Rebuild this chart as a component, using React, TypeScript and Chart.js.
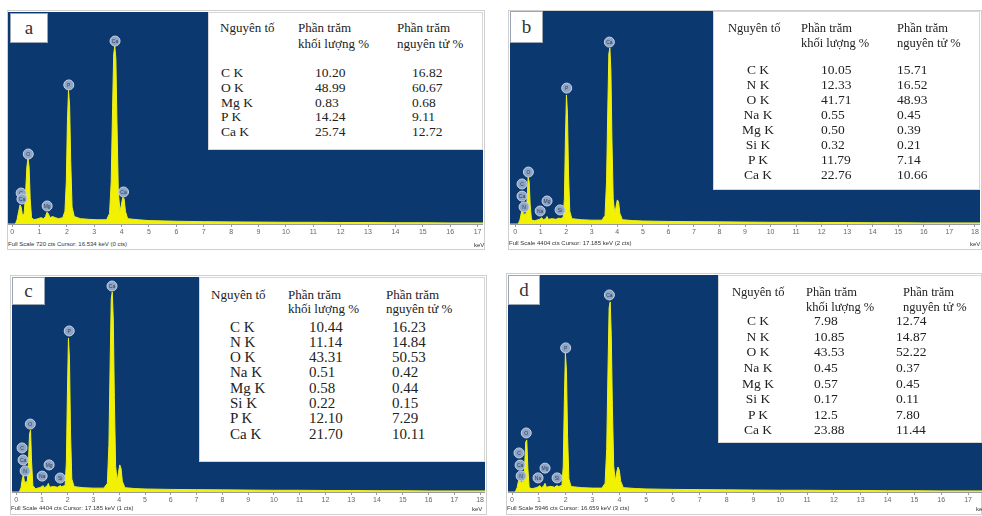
import React, { useEffect, useRef } from 'react';
import { Chart, registerables } from 'chart.js';
Chart.register(...registerables);

type Pt = [number, number];
type Mk = [string, number, number];

// ---------- DATA ----------
const headerElement = 'Nguyên tố';
const headerMass = ['Phần trăm', 'khối lượng %'];
const headerAtom = ['Phần trăm', 'nguyên tử %'];

const elementsA = ['C K', 'O K', 'Mg K', 'P K', 'Ca K'];
const massA = ['10.20', '48.99', '0.83', '14.24', '25.74'];
const atomA = ['16.82', '60.67', '0.68', '9.11', '12.72'];

const elementsB = ['C K', 'N K', 'O K', 'Na K', 'Mg K', 'Si K', 'P K', 'Ca K'];
const massB = ['10.05', '12.33', '41.71', '0.55', '0.50', '0.32', '11.79', '22.76'];
const atomB = ['15.71', '16.52', '48.93', '0.45', '0.39', '0.21', '7.14', '10.66'];

const elementsC = ['C K', 'N K', 'O K', 'Na K', 'Mg K', 'Si K', 'P K', 'Ca K'];
const massC = ['10.44', '11.14', '43.31', '0.51', '0.58', '0.22', '12.10', '21.70'];
const atomC = ['16.23', '14.84', '50.53', '0.42', '0.44', '0.15', '7.29', '10.11'];

const elementsD = ['C K', 'N K', 'O K', 'Na K', 'Mg K', 'Si K', 'P K', 'Ca K'];
const massD = ['7.98', '10.85', '43.53', '0.45', '0.57', '0.17', '12.5', '23.88'];
const atomD = ['12.74', '14.87', '52.22', '0.37', '0.45', '0.11', '7.80', '11.44'];

const footerA = 'Full Scale 720 cts  Cursor: 16.534 keV (0 cts)';
const footerB = 'Full Scale 4404 cts  Cursor: 17.185 keV (2 cts)';
const footerC = 'Full Scale 4404 cts  Cursor: 17.185 keV (1 cts)';
const footerD = 'Full Scale 5946 cts  Cursor: 16.659 keV (3 cts)';

const ticks17 = [0, 1, 2, 3, 4, 5, 6, 7, 8, 9, 10, 11, 12, 13, 14, 15, 16, 17];
const ticks18 = [0, 1, 2, 3, 4, 5, 6, 7, 8, 9, 10, 11, 12, 13, 14, 15, 16, 17, 18];

// spectra: [keV, relative counts (% of plot height)]
const spectrumA: Pt[] = [
  [-0.15, 0], [0.12, 0], [0.18, 2], [0.24, 6], [0.29, 9], [0.33, 8], [0.38, 4], [0.44, 5], [0.49, 14],
  [0.54, 27], [0.58, 31], [0.62, 27], [0.66, 12], [0.71, 3], [0.8, 2], [0.95, 2.5], [1.05, 3], [1.15, 2.5],
  [1.22, 3.5], [1.27, 5.5], [1.32, 5], [1.38, 3], [1.48, 3.5], [1.58, 3], [1.7, 2.5], [1.85, 3],
  [1.93, 6], [1.98, 20], [2.02, 48], [2.06, 63], [2.1, 56], [2.14, 30], [2.19, 8], [2.27, 3.5], [2.5, 2.5],
  [2.8, 2.2], [3.1, 2], [3.45, 2], [3.56, 5], [3.62, 20], [3.67, 55], [3.71, 80], [3.75, 84], [3.79, 78],
  [3.83, 48], [3.88, 15], [3.94, 6], [3.99, 9], [4.04, 12.5], [4.09, 12], [4.14, 6], [4.22, 2.5],
  [4.6, 2], [5, 1.6], [6, 1.3], [7, 1.1], [8, 1], [9, 0.9], [10, 0.8], [11, 0.8], [12, 0.7], [13, 0.7],
  [14, 0.6], [15, 0.6], [16, 0.5], [17.2, 0.5],
];
const markersA: Mk[] = [
  ['Ca', 3.76, 86.3], ['P', 2.07, 65.6], ['O', 0.59, 33], ['C', 0.33, 14.6], ['Ca', 0.36, 11.8],
  ['Mg', 1.28, 8.5], ['Ca', 4.07, 15.1],
];

const spectrumB: Pt[] = [
  [-0.2, 0], [0.12, 0], [0.19, 2], [0.24, 5], [0.28, 7], [0.32, 5], [0.36, 4], [0.39, 5], [0.43, 4],
  [0.47, 12], [0.51, 22], [0.55, 20], [0.59, 9], [0.64, 2], [0.75, 1.5], [0.9, 2], [1.0, 2.5], [1.04, 3],
  [1.1, 2], [1.2, 2.5], [1.25, 3.5], [1.3, 2.2], [1.45, 2.5], [1.6, 2.2], [1.72, 2.8], [1.76, 2.5],
  [1.88, 3], [1.93, 12], [1.97, 40], [2.01, 60.6], [2.05, 52], [2.09, 24], [2.14, 6], [2.22, 2.5],
  [2.6, 2], [3.0, 1.8], [3.4, 1.8], [3.52, 4], [3.58, 20], [3.63, 55], [3.67, 80], [3.71, 82.6],
  [3.75, 72], [3.79, 40], [3.84, 12], [3.9, 5], [3.95, 8], [4.0, 11.3], [4.05, 10.5], [4.1, 5],
  [4.2, 2], [4.6, 1.6], [5, 1.4], [6, 1.2], [7, 1.1], [8, 1], [9, 0.9], [10, 0.8], [11, 0.8],
  [12, 0.7], [13, 0.7], [14, 0.6], [15, 0.6], [16, 0.5], [17, 0.5], [18.2, 0.5],
];
const markersB: Mk[] = [
  ['Ca', 3.69, 85.4], ['P', 2.02, 63.8], ['O', 0.52, 24.4], ['C', 0.27, 18.8], ['Ca', 0.27, 13.1],
  ['N', 0.35, 8], ['Mg', 1.25, 10.8], ['Na', 0.98, 6.1], ['Si', 1.76, 6.6],
];

const spectrumC: Pt[] = [
  [-0.16, 0], [0.12, 0], [0.19, 2], [0.24, 6], [0.28, 8], [0.32, 5], [0.36, 4], [0.39, 5], [0.43, 4],
  [0.48, 14], [0.52, 27], [0.56, 28.8], [0.6, 14], [0.65, 3], [0.75, 1.5], [0.9, 2], [1.0, 2.5],
  [1.04, 3], [1.1, 2], [1.2, 2.8], [1.25, 4], [1.3, 2.2], [1.45, 2.6], [1.6, 2.2], [1.72, 3], [1.76, 2.5],
  [1.9, 3], [1.95, 14], [1.99, 46], [2.03, 71.6], [2.07, 62], [2.11, 28], [2.16, 6], [2.25, 2.5],
  [2.6, 2], [3.0, 1.8], [3.4, 1.8], [3.54, 4], [3.6, 22], [3.65, 62], [3.69, 90], [3.73, 93],
  [3.77, 80], [3.81, 44], [3.86, 12], [3.92, 5], [3.97, 9], [4.02, 12.6], [4.07, 11], [4.12, 5],
  [4.22, 2], [4.6, 1.6], [5, 1.4], [6, 1.2], [7, 1.1], [8, 1], [9, 0.9], [10, 0.8], [11, 0.8],
  [12, 0.7], [13, 0.7], [14, 0.6], [15, 0.6], [16, 0.5], [17, 0.5], [18.2, 0.5],
];
const markersC: Mk[] = [
  ['Ca', 3.72, 95.8], ['P', 2.06, 74.9], ['O', 0.55, 31.6], ['C', 0.23, 20.5], ['Ca', 0.27, 14.9],
  ['N', 0.35, 9.8], ['Mg', 1.28, 12.6], ['Na', 1.01, 7.4], ['Si', 1.71, 6.5],
];

const spectrumD: Pt[] = [
  [-0.15, 0], [0.12, 0], [0.19, 2], [0.24, 5], [0.28, 7], [0.32, 5], [0.36, 4], [0.39, 5], [0.43, 4],
  [0.47, 12], [0.51, 23], [0.55, 24], [0.59, 11], [0.64, 2], [0.75, 1.5], [0.9, 2], [1.0, 2.5],
  [1.03, 3], [1.1, 2], [1.18, 2.8], [1.23, 4], [1.28, 2.2], [1.45, 2.6], [1.58, 2.2], [1.68, 3],
  [1.73, 2.5], [1.86, 3], [1.91, 12], [1.95, 42], [1.99, 64], [2.03, 56], [2.07, 26], [2.12, 6],
  [2.2, 2.5], [2.6, 2], [3.0, 1.8], [3.35, 1.8], [3.47, 4], [3.53, 20], [3.58, 58], [3.62, 85],
  [3.66, 87.6], [3.7, 72], [3.74, 40], [3.79, 12], [3.85, 5], [3.9, 9], [3.95, 11.5], [4.0, 10],
  [4.05, 5], [4.15, 2], [4.6, 1.6], [5, 1.4], [6, 1.2], [7, 1.1], [8, 1], [9, 0.9], [10, 0.8],
  [11, 0.8], [12, 0.7], [13, 0.7], [14, 0.6], [15, 0.6], [16, 0.5], [17, 0.5], [17.6, 0.5],
];
const markersD: Mk[] = [
  ['Ca', 3.63, 90.8], ['P', 2.0, 66.4], ['O', 0.53, 27.2], ['C', 0.26, 18], ['Ca', 0.3, 12.4],
  ['N', 0.34, 7.4], ['Mg', 1.23, 11], ['Na', 0.97, 6.5], ['Si', 1.68, 6.5],
];

// ---------- COMPONENTS ----------
const SERIF = '"Liberation Serif", "Times New Roman", "DejaVu Serif", serif';
const SANS = '"Liberation Sans", Arial, sans-serif';

function SpectrumChart(props: {
  spectrum: Pt[]; markers: Mk[]; xMin: number; xMax: number; ticks: number[];
  width: number; height: number;
}) {
  const ref = useRef<HTMLCanvasElement>(null);
  useEffect(() => {
    const { spectrum, markers, xMin, xMax, ticks } = props;
    const bg = {
      id: 'bgPlot',
      beforeDraw(c: any) {
        const { ctx, chartArea: a } = c;
        ctx.save();
        ctx.fillStyle = '#0b386f';
        ctx.fillRect(a.left, a.top, a.right - a.left, a.bottom - a.top);
        ctx.restore();
      },
    };
    const mk = {
      id: 'peakMarkers',
      afterDatasetsDraw(c: any) {
        const { ctx } = c;
        const xs = c.scales.x, ys = c.scales.y;
        ctx.save();
        markers.forEach(([t, vx, vy]) => {
          const px = xs.getPixelForValue(vx);
          const py = ys.getPixelForValue(vy);
          ctx.beginPath();
          ctx.arc(px, py, 5, 0, Math.PI * 2);
          ctx.fillStyle = '#8ea5c5';
          ctx.fill();
          ctx.strokeStyle = '#c5d2e6';
          ctx.lineWidth = 1;
          ctx.stroke();
          ctx.fillStyle = '#2a3d5c';
          ctx.font = '5px ' + SANS;
          ctx.textAlign = 'center';
          ctx.textBaseline = 'middle';
          ctx.fillText(t, px, py + 0.3);
        });
        ctx.restore();
      },
    };
    const chart = new Chart(ref.current as HTMLCanvasElement, {
      type: 'line',
      data: {
        datasets: [{
          data: spectrum.map(([x, y]) => ({ x, y })),
          borderColor: '#eeee20',
          borderWidth: 1,
          backgroundColor: '#f2f200',
          fill: 'origin',
          pointRadius: 0,
          tension: 0,
        }],
      },
      options: {
        animation: false,
        responsive: false,
        maintainAspectRatio: false,
        layout: { padding: 0 },
        plugins: { legend: { display: false }, tooltip: { enabled: false } },
        scales: {
          x: {
            type: 'linear',
            min: xMin,
            max: xMax,
            afterBuildTicks: (s: any) => { s.ticks = ticks.map((v) => ({ value: v })); },
            afterFit: (s: any) => { s.height = 16; s.paddingLeft = 0; s.paddingRight = 0; },
            grid: { drawOnChartArea: false, drawTicks: true, tickLength: 3, color: '#999', tickColor: '#999' },
            border: { color: '#9a9a9a' },
            ticks: { font: { size: 7, family: SANS }, color: '#666', padding: 1, maxRotation: 0, autoSkip: false },
          },
          y: { display: false, min: 0, max: 100 },
        },
      } as any,
      plugins: [bg, mk],
    });
    return () => chart.destroy();
  }, []);
  return <canvas ref={ref} width={props.width} height={props.height} style={{ display: 'block', width: props.width, height: props.height }} />;
}

type PanelLayout = {
  frame: number[]; plot: number[]; label: number[]; labelText: string; table: number[];
  font: number; rowFont: number; hdrY: number[]; hdrX: number[]; rowY0: number; rowGap: number; colX: number[];
  elAlign: 'left' | 'center'; footerY: number; kevX: number;
};

function Txt(p: { x: number; y: number; text: string; size: number; align?: 'left' | 'center'; family?: string; color?: string }) {
  const w = 120;
  const left = p.align === 'center' ? p.x - w / 2 : p.x;
  return (
    <div style={{
      position: 'absolute', left, top: p.y - p.size / 2, width: p.align === 'center' ? w : undefined,
      textAlign: p.align || 'left', fontSize: p.size, lineHeight: p.size + 'px', fontFamily: p.family || SERIF,
      color: p.color || '#222', whiteSpace: 'nowrap',
    }}>{p.text}</div>
  );
}

function Panel(p: {
  L: PanelLayout; spectrum: Pt[]; markers: Mk[]; xMin: number; xMax: number; ticks: number[];
  elements: string[]; mass: string[]; atom: string[]; footer: string;
}) {
  const { L } = p;
  const [px, py, pw, ph] = L.plot;
  return (
    <>
      <div style={{ position: 'absolute', left: L.frame[0], top: L.frame[1], width: L.frame[2], height: L.frame[3], border: '1px solid #cfcfcf', boxSizing: 'border-box' }} />
      <div style={{ position: 'absolute', left: px, top: py }}>
        <SpectrumChart spectrum={p.spectrum} markers={p.markers} xMin={p.xMin} xMax={p.xMax} ticks={p.ticks} width={pw} height={ph + 16} />
      </div>
      <div style={{ position: 'absolute', left: L.label[0], top: L.label[1], width: L.label[2], height: L.label[3], background: '#fff', border: '1px solid #9aa6b4', boxSizing: 'border-box', display: 'flex', alignItems: 'center', justifyContent: 'center', fontFamily: SERIF, fontSize: 19, color: '#333' }}>{L.labelText}</div>
      <div style={{ position: 'absolute', left: L.table[0], top: L.table[1], width: L.table[2], height: L.table[3], background: '#fff', border: '1px solid #d6d6d6', boxSizing: 'border-box' }} />
      <Txt x={L.hdrX[0]} y={L.hdrY[0]} text={headerElement} size={L.font} />
      <Txt x={L.hdrX[1]} y={L.hdrY[0]} text={headerMass[0]} size={L.font} />
      <Txt x={L.hdrX[1]} y={L.hdrY[1]} text={headerMass[1]} size={L.font} />
      <Txt x={L.hdrX[2]} y={L.hdrY[0]} text={headerAtom[0]} size={L.font} />
      <Txt x={L.hdrX[2]} y={L.hdrY[1]} text={headerAtom[1]} size={L.font} />
      {p.elements.map((e, i) => (
        <React.Fragment key={i}>
          <Txt x={L.colX[0]} y={L.rowY0 + i * L.rowGap} text={e} size={L.rowFont} align={L.elAlign} />
          <Txt x={L.colX[1]} y={L.rowY0 + i * L.rowGap} text={p.mass[i]} size={L.rowFont} />
          <Txt x={L.colX[2]} y={L.rowY0 + i * L.rowGap} text={p.atom[i]} size={L.rowFont} />
        </React.Fragment>
      ))}
      <Txt x={L.frame[0] + 1} y={L.footerY} text={p.footer} size={6} family={SANS} color="#333" />
      <Txt x={L.kevX} y={L.footerY + 1} text="keV" size={6} family={SANS} color="#333" />
    </>
  );
}

const layoutA: PanelLayout = {
  frame: [7, 10, 478, 240], plot: [8, 12, 475, 212], label: [10, 13, 38, 30], labelText: 'a',
  table: [208, 12, 275, 138], font: 13, rowFont: 13.5, hdrY: [27, 43], hdrX: [220, 298, 397], rowY0: 73, rowGap: 14.7,
  colX: [221, 315, 412], elAlign: 'left', footerY: 244, kevX: 474,
};
const layoutB: PanelLayout = {
  frame: [508, 10, 474, 240], plot: [510, 11, 470, 213], label: [510, 11, 33, 32], labelText: 'b',
  table: [713, 11, 267, 179], font: 12.5, rowFont: 13.5, hdrY: [28, 43], hdrX: [728, 801, 897], rowY0: 70, rowGap: 15,
  colX: [758, 821, 897], elAlign: 'center', footerY: 243, kevX: 970,
};
const layoutC: PanelLayout = {
  frame: [10, 275, 477, 240], plot: [12, 277, 473, 215], label: [12, 277, 33, 28], labelText: 'c',
  table: [199, 277, 286, 185], font: 13, rowFont: 15, hdrY: [294, 308], hdrX: [211, 288, 386], rowY0: 327, rowGap: 15.3,
  colX: [230, 309, 392], elAlign: 'left', footerY: 508, kevX: 472,
};
const layoutD: PanelLayout = {
  frame: [506, 273, 476, 242], plot: [508, 275, 474, 217], label: [508, 275, 32, 30], labelText: 'd',
  table: [718, 275, 264, 168], font: 12.5, rowFont: 13.5, hdrY: [292, 307], hdrX: [732, 806, 903], rowY0: 321, rowGap: 15.6,
  colX: [758, 814, 896], elAlign: 'center', footerY: 508, kevX: 976,
};

export default function App() {
  return (
    <div style={{ position: 'absolute', left: 0, top: 0, width: 982, height: 516, background: '#fff', overflow: 'hidden' }}>
      <Panel L={layoutA} spectrum={spectrumA} markers={markersA} xMin={-0.15} xMax={17.2} ticks={ticks17}
        elements={elementsA} mass={massA} atom={atomA} footer={footerA} />
      <Panel L={layoutB} spectrum={spectrumB} markers={markersB} xMin={-0.2} xMax={18.2} ticks={ticks18}
        elements={elementsB} mass={massB} atom={atomB} footer={footerB} />
      <Panel L={layoutC} spectrum={spectrumC} markers={markersC} xMin={-0.16} xMax={18.19} ticks={ticks18}
        elements={elementsC} mass={massC} atom={atomC} footer={footerC} />
      <Panel L={layoutD} spectrum={spectrumD} markers={markersD} xMin={-0.15} xMax={17.52} ticks={ticks17}
        elements={elementsD} mass={massD} atom={atomD} footer={footerD} />
    </div>
  );
}
